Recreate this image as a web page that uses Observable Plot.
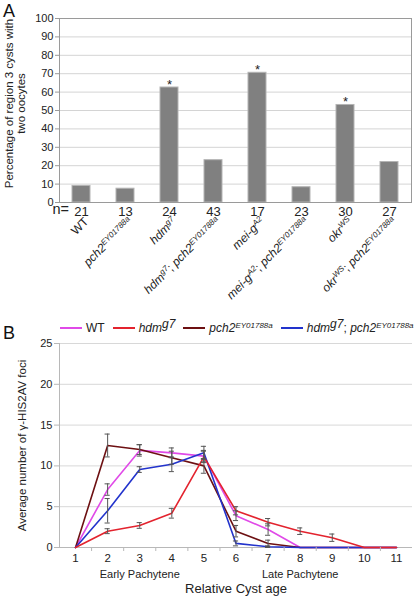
<!DOCTYPE html>
<html><head><meta charset="utf-8">
<script src="https://cdn.jsdelivr.net/npm/d3@7"></script>
<script src="https://cdn.jsdelivr.net/npm/@observablehq/plot@0.6"></script>
<style>
body{margin:0;background:#fff;font-family:"Liberation Sans",Arial,sans-serif;}
#wrap{position:relative;width:415px;height:599px;overflow:hidden;background:#fff;}
.panel{position:absolute;left:0;}
.tag{position:absolute;font-size:18px;color:#111;line-height:1;}
#legend{position:absolute;top:321px;left:60px;display:flex;gap:8px;font-size:12px;align-items:center;white-space:nowrap;color:#222;}
#legend .item{display:flex;align-items:center;}
#legend .lab{display:inline-block;line-height:14px;}
#legend .sw{display:inline-block;width:22px;height:2px;margin-right:4px;}
#legend sup{font-size:8px;vertical-align:4px;line-height:0;}
#legend sup.big{font-size:12px;vertical-align:4px;}
</style>
</head><body>
<div id="wrap">
  <div class="tag" style="left:3px;top:2px;">A</div>
  <div id="panelA" class="panel" style="top:0;"></div>
  <div class="tag" style="left:3px;top:324px;">B</div>
  <div id="panelB" class="panel" style="top:300px;"></div>
  <div id="legend"></div>
</div>
<script>
// ---------- Panel A data ----------
const genotypes = ["WT", "pch2^EY01788a", "hdm^g7", "hdm^g7; pch2^EY01788a", "mei-g^A2", "mei-g^A2; pch2^EY01788a", "okr^WS", "okr^WS; pch2^EY01788a"];
const percentTwoOocytes = [9, 7.5, 62.5, 23, 70.5, 8.3, 53, 22];
const nCounts = [21, 13, 24, 43, 17, 23, 30, 27];
const significant = [false, false, true, false, true, false, true, false];
const yTicksA = [0, 10, 20, 30, 40, 50, 60, 70, 80, 90, 100];
const yLabelA = "Percentage of region 3 cysts with\ntwo oocytes";

// ---------- Panel B data ----------
const cystAge = [1, 2, 3, 4, 5, 6, 7, 8, 9, 10, 11];
const seriesNames = ["WT", "hdm^g7", "pch2^EY01788a", "hdm^g7; pch2^EY01788a"];
const wtMean   = [0, 7.1, 11.9, 11.6, 11.2, 3.9, 2.2, 0, 0, 0, 0];
const wtErr    = [0, 0.7, 0.7, 0.6, 0.7, 0.6, 0.7, 0, 0, 0, 0];
const hdmMean  = [0, 2.0, 2.7, 4.2, 11.1, 4.5, 3.1, 2.0, 1.2, 0, 0];
const hdmErr   = [0, 0.3, 0.35, 0.6, 0.7, 0.5, 0.45, 0.4, 0.45, 0, 0];
const pch2Mean = [0, 12.5, 12.0, 11.0, 10.0, 2.0, 0.5, 0, 0, 0, 0];
const pch2Err  = [0, 1.4, 0.6, 0.8, 0.9, 0.7, 0.4, 0, 0, 0, 0];
const dblMean  = [0, 4.5, 9.55, 10.2, 11.6, 0.5, 0.1, 0, 0, 0, 0];
const dblErr   = [0, 1.5, 0.35, 0.9, 0.8, 0.3, 0.1, 0, 0, 0, 0];
const yTicksB = [0, 5, 10, 15, 20, 25];
const phaseLabels = ["Early Pachytene", "Late Pachytene"];
const phaseAges = [3, 8];
const xTitleB = "Relative Cyst age";
const yLabelB = "Average number of \u03b3-HIS2AV foci";

const seriesColors = ["#e04ae8", "#e3232e", "#6d1012", "#2233cc"];
const FONT = '"Liberation Sans", Arial, sans-serif';

// ---------- helpers for italic / superscript genotype names ----------
function parseLabel(label) {
  const out = [];
  label.split(/(; )/).forEach(part => {
    if (part === "; ") { out.push({t: "; ", kind: "plain"}); return; }
    const m = part.match(/^([^^]+)(?:\^(.+))?$/);
    const italic = part !== "WT";
    out.push({t: m[1], kind: italic ? "italic" : "plain"});
    if (m[2]) out.push({t: m[2], kind: "sup"});
  });
  return out;
}
function richSvg(textEl, label, supSize) {
  const sel = d3.select(textEl);
  sel.text(null);
  parseLabel(label).forEach(s => {
    const ts = sel.append("tspan").text(s.t);
    if (s.kind === "italic") ts.attr("font-style", "italic");
    if (s.kind === "sup") ts.attr("font-style", "italic").attr("baseline-shift", "super").attr("font-size", supSize);
  });
}
function richHtml(label) {
  return parseLabel(label).map(s => {
    if (s.kind === "italic") return `<i>${s.t}</i>`;
    if (s.kind === "sup") return `<sup class="${s.t === "g7" ? "big" : ""}"><i>${s.t}</i></sup>`;
    return s.t.replace(/ /g, "&nbsp;");
  }).join("");
}

// ---------- Panel A ----------
const rowsA = genotypes.map((g, i) => ({genotype: g, percent: percentTwoOocytes[i], n: nCounts[i], star: significant[i]}));
const plotA = Plot.plot({
  width: 415, height: 300,
  marginTop: 18, marginBottom: 98, marginLeft: 59, marginRight: 4,
  style: {fontFamily: FONT, fontSize: "11px", color: "#222", background: "transparent"},
  x: {domain: genotypes, paddingInner: 0.59, paddingOuter: 0.295, axis: null},
  y: {domain: [0, 100], axis: null},
  marks: [
    Plot.gridY(yTicksA, {stroke: "#d4d4d4", strokeOpacity: 1}),
    Plot.barY(rowsA, {x: "genotype", y: "percent", fill: "#808080", stroke: "#b4b4b4", strokeWidth: 1}),
    Plot.text(rowsA.filter(d => d.star), {x: "genotype", y: "percent", text: () => "*", lineAnchor: "bottom", dy: 1, fontSize: 13}),
    Plot.frame({stroke: "#9a9a9a"}),
    Plot.axisY({ticks: yTicksA, tickSize: 4, tickPadding: 2, fontSize: 11, label: null, stroke: "#9a9a9a"}),
    Plot.axisX({tickSize: 0, tickPadding: 4, fontSize: 13, label: null, tickFormat: d => String(nCounts[genotypes.indexOf(d)])}),
    Plot.axisX({tickSize: 0, tickRotate: -45, tickPadding: 17, dx: 5, fontSize: 12, label: null}),
    Plot.text(["n="], {frameAnchor: "bottom-left", textAnchor: "start", dx: -7, dy: 11, fontSize: 14.5}),
    Plot.text([yLabelA], {frameAnchor: "left", rotate: -90, textAnchor: "middle", lineAnchor: "middle", dx: -44, dy: -7, fontSize: 11.5, lineHeight: 1.05})
  ]
});
d3.select(plotA).selectAll("text").each(function() {
  const t = this.textContent;
  if (genotypes.includes(t)) richSvg(this, t, "8px");
});
document.getElementById("panelA").appendChild(plotA);

// ---------- Panel B ----------
const seriesData = {
  "WT": [wtMean, wtErr],
  "hdm^g7": [hdmMean, hdmErr],
  "pch2^EY01788a": [pch2Mean, pch2Err],
  "hdm^g7; pch2^EY01788a": [dblMean, dblErr]
};
const drawOrder = ["WT", "pch2^EY01788a", "hdm^g7; pch2^EY01788a", "hdm^g7"];
const rowsB = drawOrder.flatMap(s => cystAge.map((a, i) => ({series: s, age: a, mean: seriesData[s][0][i], err: seriesData[s][1][i]})));
const errRows = rowsB.filter(d => d.err > 0);
const xDomainB = [cystAge[0] - 0.5, cystAge[cystAge.length - 1] + 0.5];
const boundaries = cystAge.slice(1).map(a => a - 0.5);
const phaseRows = phaseLabels.map((l, i) => ({label: l, age: phaseAges[i]}));
const capHalf = 0.08;

const plotB = Plot.plot({
  width: 415, height: 299,
  marginTop: 43, marginBottom: 52, marginLeft: 59, marginRight: 3,
  style: {fontFamily: FONT, fontSize: "11px", color: "#222", background: "transparent"},
  x: {domain: xDomainB, axis: null},
  y: {domain: [0, 25], axis: null},
  color: {domain: seriesNames, range: seriesColors},
  marks: [
    Plot.gridY(yTicksB.slice(1), {stroke: "#d8d8d8", strokeOpacity: 1}),
    Plot.ruleY([0], {stroke: "#b8b8b8"}),
    Plot.ruleX([xDomainB[0]], {stroke: "#b8b8b8"}),
    Plot.lineY(rowsB, {x: "age", y: "mean", z: "series", stroke: "series", strokeWidth: 1.6}),
    Plot.ruleX(errRows, {x: "age", y1: d => d.mean - d.err, y2: d => d.mean + d.err, stroke: "#555", strokeWidth: 1}),
    Plot.ruleY(errRows, {y: d => d.mean + d.err, x1: d => d.age - capHalf, x2: d => d.age + capHalf, stroke: "#555", strokeWidth: 1}),
    Plot.ruleY(errRows, {y: d => d.mean - d.err, x1: d => d.age - capHalf, x2: d => d.age + capHalf, stroke: "#555", strokeWidth: 1}),
    Plot.axisY({ticks: yTicksB, tickSize: 5, tickPadding: 2, fontSize: 11, label: null, stroke: "#b8b8b8"}),
    Plot.axisX({ticks: cystAge, tickSize: 0, tickPadding: 6, fontSize: 11.5, label: null}),
    Plot.axisX({ticks: boundaries, tickSize: 4, tickFormat: () => "", label: null, stroke: "#b8b8b8"}),
    Plot.text(phaseRows, {x: "age", text: "label", frameAnchor: "bottom", dy: 30, fontSize: 11}),
    Plot.text([xTitleB], {frameAnchor: "bottom", dy: 45, fontSize: 13}),
    Plot.text([yLabelB], {frameAnchor: "left", rotate: -90, textAnchor: "middle", lineAnchor: "middle", dx: -37, fontSize: 11.5})
  ]
});
document.getElementById("panelB").appendChild(plotB);

// ---------- Legend for panel B ----------
document.getElementById("legend").innerHTML = seriesNames.map((s, i) =>
  `<span class="item"><span class="sw" style="background:${seriesColors[i]}"></span><span class="lab">${richHtml(s)}</span></span>`
).join("");
</script>
</body></html>
